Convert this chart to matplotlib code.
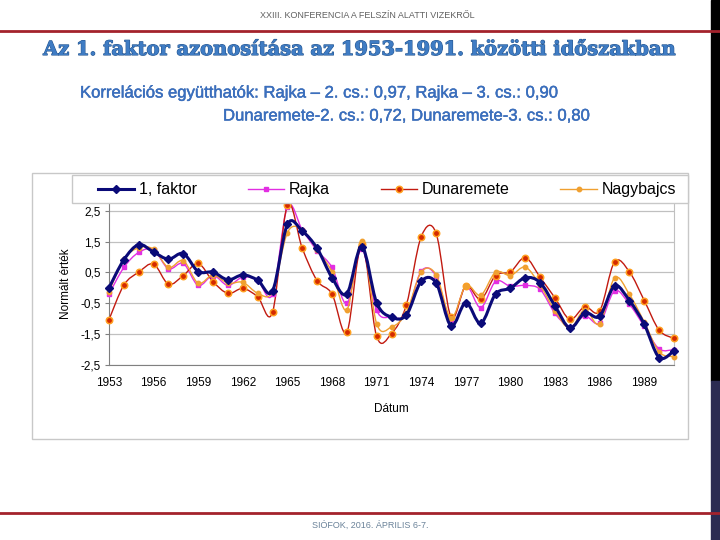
import matplotlib
matplotlib.use('Agg')
import matplotlib.pyplot as plt
import matplotlib.patheffects as pe
from matplotlib.path import Path
from matplotlib.patches import PathPatch, Rectangle
from matplotlib.lines import Line2D
import numpy as np

plt.rcParams['font.family'] = ['Liberation Sans', 'DejaVu Sans']

# === data ===
years = list(range(1953, 1992))

faktor = [0.00, 0.91, 1.40, 1.16, 0.93, 1.11, 0.53, 0.51, 0.26, 0.42,
          0.25, -0.10, 2.06, 1.84, 1.28, 0.33, -0.19, 1.34, -0.48, -0.95,
          -0.88, 0.21, 0.16, -1.23, -0.48, -1.15, -0.20, -0.01, 0.33, 0.17,
          -0.59, -1.30, -0.81, -0.92, 0.06, -0.41, -1.18, -2.26, -2.04]

rajka = [-0.20, 0.66, 1.15, 1.23, 0.62, 0.79, 0.08, 0.40, 0.08, 0.35,
         0.24, -0.20, 2.63, 1.88, 1.20, 0.66, -0.50, 1.26, -0.73, -0.94,
         -0.85, 0.54, 0.38, -1.07, 0.05, -0.64, 0.21, 0.05, 0.08, -0.05,
         -0.83, -1.26, -0.91, -1.14, -0.10, -0.53, -1.25, -1.98, -2.00]

dunaremete = [-1.03, 0.09, 0.51, 0.77, 0.12, 0.40, 0.79, 0.20, -0.18, -0.02,
              -0.29, -0.79, 2.68, 1.28, 0.23, -0.20, -1.43, 1.42, -1.57, -1.48,
              -0.55, 1.66, 1.77, -0.94, 0.07, -0.37, 0.40, 0.52, 0.98, 0.34,
              -0.33, -1.02, -0.61, -0.75, 0.84, 0.52, -0.41, -1.37, -1.64]

nagybajcs = [-0.12, 0.93, 1.30, 1.25, 0.66, 0.88, 0.15, 0.42, 0.15, 0.18,
             -0.17, -0.12, 1.79, 1.88, 1.23, 0.51, -0.71, 1.52, -1.16, -1.27,
             -0.80, 0.51, 0.43, -0.98, 0.07, -0.24, 0.51, 0.40, 0.67, 0.08,
             -0.75, -1.31, -0.71, -1.16, 0.32, -0.21, -1.11, -2.08, -2.23]

labels = ['1, faktor', 'Rajka', 'Dunaremete', 'Nagybajcs']
yticks = [2.5, 1.5, 0.5, -0.5, -1.5, -2.5]
xticks = list(range(1953, 1990, 3))


# smoothed line like excel (catmull-rom drawn as bezier curves)
def smooth_path(x, y):
    pts = np.column_stack([x, y]).astype(float)
    p = np.vstack([pts[0], pts, pts[-1]])
    verts = [pts[0]]
    codes = [Path.MOVETO]
    for i in range(1, len(p) - 2):
        c1 = p[i] + (p[i + 1] - p[i - 1]) / 6.0
        c2 = p[i + 1] - (p[i + 2] - p[i]) / 6.0
        verts += [c1, c2, p[i + 1]]
        codes += [Path.CURVE4] * 3
    return Path(verts, codes)


W, H = 720, 540
fig = plt.figure(figsize=(7.2, 5.4), dpi=100)


def fx(px):
    return px / W


def fy(py):
    return 1 - py / H


# slide decoration
fig.add_artist(Rectangle((fx(711), fy(381)), fx(9), 381 / H, transform=fig.transFigure,
                         color='black', zorder=0))
fig.add_artist(Rectangle((fx(711), 0), fx(9), 159 / H, transform=fig.transFigure,
                         color='#2b2b52', zorder=0))
fig.add_artist(Line2D([0, 1], [fy(31), fy(31)], transform=fig.transFigure,
                      color='#a3222c', lw=2))
fig.add_artist(Line2D([0, 1], [fy(513), fy(513)], transform=fig.transFigure,
                      color='#a3222c', lw=2))

fig.text(fx(367), fy(15), 'XXIII. KONFERENCIA A FELSZÍN ALATTI VIZEKRŐL',
         ha='center', va='center', fontsize=6.5, color='#606060')
fig.text(fx(370), fy(525), 'SIÓFOK, 2016. ÁPRILIS 6-7.',
         ha='center', va='center', fontsize=6.5, color='#6a8299')

title = fig.text(fx(360), fy(50), 'Az 1. faktor azonosítása az 1953-1991. közötti időszakban',
                 ha='center', va='center', fontsize=14, fontweight='bold',
                 family='DejaVu Serif', color='#3f7cc4')
title.set_path_effects([pe.withStroke(linewidth=0.8, foreground='#24558f')])

sub_style = dict(ha='left', va='center', fontsize=12, color='#3a6fbf')
s1 = fig.text(fx(80), fy(93), 'Korrelációs együtthatók: Rajka – 2. cs.: 0,97, Rajka – 3. cs.: 0,90',
              **sub_style)
s2 = fig.text(fx(223), fy(116), 'Dunaremete-2. cs.: 0,72, Dunaremete-3. cs.: 0,80',
              **sub_style)
for s in (s1, s2):
    s.set_path_effects([pe.withStroke(linewidth=0.3, foreground='#2f5fa8')])

# chart frame and legend box
fig.add_artist(Rectangle((fx(32), fy(439)), fx(656), 266 / H, transform=fig.transFigure,
                         facecolor='white', edgecolor='#c8c8c8', lw=1, zorder=0.5))
fig.add_artist(Rectangle((fx(72), fy(203)), fx(616), 28 / H, transform=fig.transFigure,
                         facecolor='white', edgecolor='#c8c8c8', lw=1, zorder=9))

ax = fig.add_axes([fx(109), fy(365), fx(674 - 109), (365 - 203) / H])
ax.set_zorder(2)
ax.patch.set_alpha(0)
ax.set_xlim(1953, 1991)
ax.set_ylim(-2.5, 2.75)

series = [
    (faktor, dict(color='#0a0a78', lw=2.2, marker='D', ms=4.2, mfc='#0a0a78', mec='#0a0a78'), 5),
    (rajka, dict(color='#e22ee2', lw=1.0, marker='s', ms=3.2, mfc='#e22ee2', mec='#e22ee2'), 3),
    (dunaremete, dict(color='#c21a10', lw=1.0, marker='o', ms=4.6, mfc='#d42a00', mec='#ffa020', mew=1.1), 3),
    (nagybajcs, dict(color='#f0a030', lw=1.0, marker='o', ms=3.2, mfc='#f0a030', mec='#f0a030'), 4),
]

handles = []
for vals, st, z in series:
    patch = PathPatch(smooth_path(years, vals), fill=False, edgecolor=st['color'],
                      lw=st['lw'], zorder=z, capstyle='round', joinstyle='round')
    ax.add_patch(patch)
    ax.plot(years, vals, ls='none', marker=st['marker'], ms=st['ms'], mfc=st['mfc'],
            mec=st['mec'], mew=st.get('mew', 1), zorder=z + 0.5, clip_on=False)
    handles.append(Line2D([], [], color=st['color'], lw=st['lw'], marker=st['marker'],
                          ms=st['ms'], mfc=st['mfc'], mec=st['mec'], mew=st.get('mew', 1)))

ax.set_yticks(yticks)
ax.set_yticklabels([f'{v:.1f}'.replace('.', ',') for v in yticks])
ax.set_xticks(xticks)
ax.set_xticklabels([str(v) for v in xticks])
ax.tick_params(axis='both', labelsize=8.5, length=3, color='#808080', pad=3)
ax.tick_params(axis='x', length=0, pad=9)
ax.grid(axis='y', color='#c0c0c0', lw=0.9)
ax.set_axisbelow(True)
ax.spines['top'].set_visible(False)
ax.spines['right'].set_color('#c0c0c0')
ax.spines['left'].set_color('#808080')
ax.spines['bottom'].set_color('#808080')

ax.set_xlabel('Dátum', fontsize=8.5, labelpad=10)
ax.set_ylabel('Normált érték', fontsize=8.5, labelpad=6)

leg = fig.legend(handles, labels, loc='lower left', ncol=4, mode='expand',
                 bbox_to_anchor=(fx(92), fy(203), fx(590), 28 / H),
                 borderaxespad=0, fontsize=11.5, frameon=False,
                 handlelength=2.3, handletextpad=0.3, borderpad=0.35)
leg.set_zorder(10)

fig.savefig('out.png', dpi=100)
